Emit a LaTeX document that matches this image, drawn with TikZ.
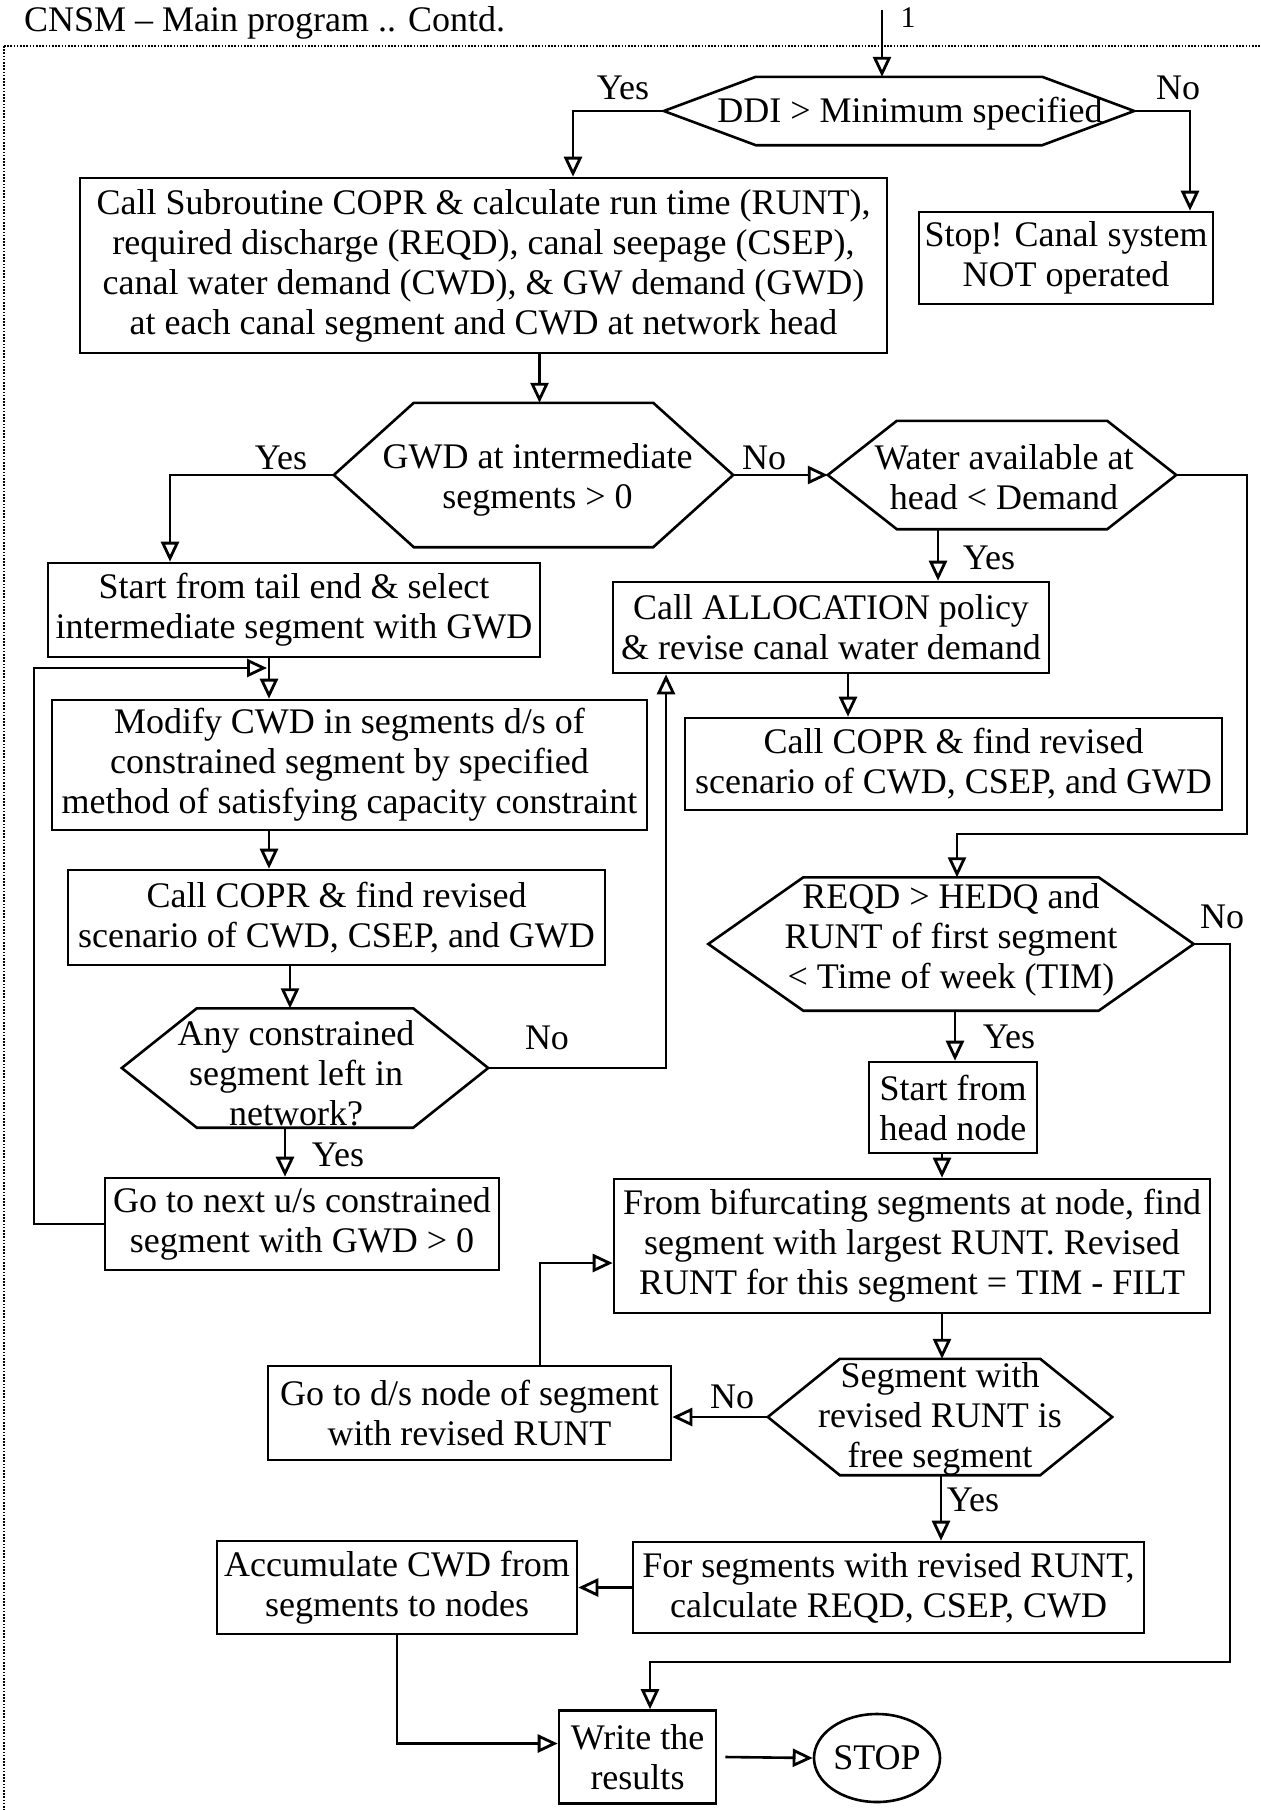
\documentclass[tikz,border=0pt]{standalone}
\usepackage{fontspec}
\setmainfont{Liberation Serif}
\usetikzlibrary{arrows.meta,shapes.geometric,calc}

\newcommand\fs{\fontsize{36}{40}\selectfont}

\tikzset{
  ln/.style={line width=2.6pt},
  arr/.style={ln, -{Triangle[open,length=20pt,width=18pt,line width=2.8pt]}},
  box/.style={draw, line width=2.6pt, align=center, inner sep=2pt, font=\fs},
  hexshape/.style={draw=none, inner sep=0pt},
  txt/.style={align=center, inner sep=0pt, font=\fs},
  lbl/.style={inner sep=0pt, font=\fs},
  border/.style={line width=1.6pt, dash pattern=on 1.6pt off 1.6pt},
}

% hexagonal decision box: name, centre, width, height, slant inset, text, text shift
\newcommand\hexbox[7]{%
  \node[hexshape, minimum width=#3, minimum height=#4] (#1) at (#2) {};
  \draw[ln, line join=miter] (#1.west) -- ([xshift=#5]#1.north west) -- ([xshift=-#5]#1.north east)
    -- (#1.east) -- ([xshift=-#5]#1.south east) -- ([xshift=#5]#1.south west) -- cycle;
  \node[txt, #7] (#1-t) at (#1) {#6};
}

\begin{document}
\begin{tikzpicture}[x=1pt, y=-1pt]
\useasboundingbox (0,0) rectangle (1261,1810);

% page heading and frame
\node[lbl, anchor=base west] (title) at (24,31) {CNSM – Main program .. Contd.};
\node[lbl, font=\fontsize{30}{34}\selectfont] (one) at (908,18) {1};
\draw[border] (4,46) -- (1261,46);
\draw[border] (4,46) -- (4,1810);

% decisions
\hexbox{ddi}{899,111}{470pt}{68pt}{92pt}{DDI > Minimum specified}{xshift=11pt,yshift=-3pt}
\hexbox{gwd}{533.5,475}{399pt}{144pt}{80pt}{GWD at intermediate\\segments > 0}{xshift=4pt,yshift=-5pt}
\hexbox{water}{1002,475}{348pt}{108pt}{69pt}{Water available at\\head < Demand}{xshift=2pt,yshift=-2pt}
\hexbox{any}{305,1068}{366pt}{119pt}{75pt}{Any constrained\\segment left in\\network?}{xshift=-9pt,yshift=-5pt}
\hexbox{reqd}{951,944}{485pt}{133pt}{95pt}{REQD > HEDQ and\\RUNT of first segment\\< Time of week (TIM)}{yshift=4pt}
\hexbox{seg}{940,1417}{344pt}{116pt}{72pt}{Segment with\\revised RUNT is\\free segment}{yshift=-2pt}

% process boxes
\node[box, minimum width=807pt, minimum height=175pt] (main) at (483.5,265.5)
  {Call Subroutine COPR \& calculate run time (RUNT),\\required discharge (REQD), canal seepage (CSEP),\\canal water demand (CWD), \& GW demand (GWD)\\at each canal segment and CWD at network head};
\node[box, minimum width=294pt, minimum height=92pt] (stop) at (1066,258)
  {Stop! Canal system\\NOT operated};
\node[box, minimum width=492pt, minimum height=94pt] (start) at (294,610)
  {Start from tail end \& select\\intermediate segment with GWD};
\node[box, minimum width=436pt, minimum height=91pt] (alloc) at (831,627.5)
  {Call ALLOCATION policy\\\& revise canal water demand};
\node[box, minimum width=537pt, minimum height=92pt] (copr2) at (953.5,764)
  {Call COPR \& find revised\\scenario of CWD, CSEP, and GWD};
\node[box, minimum width=595pt, minimum height=130pt] (modify) at (349.5,765)
  {Modify CWD in segments d/s of\\constrained segment by specified\\method of satisfying capacity constraint};
\node[box, minimum width=537pt, minimum height=95pt] (copr1) at (336.5,917.5)
  {Call COPR \& find revised\\scenario of CWD, CSEP, and GWD};
\node[box, minimum width=394pt, minimum height=92pt] (goto) at (302,1224)
  {Go to next u/s constrained\\segment with GWD > 0};
\node[box, minimum width=168pt, minimum height=91pt] (head) at (953,1107.5)
  {Start from\\head node};
\node[box, minimum width=596pt, minimum height=134pt] (bif) at (912,1246)
  {From bifurcating segments at node, find\\segment with largest RUNT. Revised\\RUNT for this segment = TIM - FILT};
\node[box, minimum width=403pt, minimum height=94pt] (gods) at (469.5,1413)
  {Go to d/s node of segment\\with revised RUNT};
\node[box, minimum width=511pt, minimum height=91pt] (forseg) at (888.5,1587.5)
  {For segments with revised RUNT,\\calculate REQD, CSEP, CWD};
\node[box, minimum width=360pt, minimum height=93pt] (accum) at (397,1587.5)
  {Accumulate CWD from\\segments to nodes};
\node[box, minimum width=157pt, minimum height=93pt] (write) at (637.5,1757)
  {Write the\\results};
\node[draw, ellipse, line width=2.6pt, minimum width=126pt, minimum height=88pt,
  inner sep=0pt, font=\fs] (stopc) at (877,1758) {STOP};

% branch labels
\node[lbl] (y1) at (623,88) {Yes};
\node[lbl] (n1) at (1178,88) {No};
\node[lbl] (y2) at (281,458) {Yes};
\node[lbl] (n2) at (764,458) {No};
\node[lbl] (y3) at (989,558) {Yes};
\node[lbl] (n4) at (547,1038) {No};
\node[lbl] (y4) at (338,1155) {Yes};
\node[lbl] (n5) at (1222,917) {No};
\node[lbl] (y5) at (1009,1037) {Yes};
\node[lbl] (n6) at (732,1397) {No};
\node[lbl] (y6) at (973,1500) {Yes};

% bend points
\coordinate (in1) at (882,10);
\coordinate (rt) at (1247,834);
\coordinate (rb) at (1230,1662);
\coordinate (lp) at (34,668);
\coordinate (jn) at ([xshift=-27pt]start.south |- lp);

% connectors
\draw[arr] (in1) -- (in1 |- ddi.north);
\draw[arr] (ddi.west) -| ([xshift=89.5pt]main.north);
\draw[arr] (ddi.east) -| ([xshift=124pt]stop.north);
\draw[arr] ([xshift=56pt]main.south) -- ([xshift=56pt]main.south |- gwd.north);
\draw[arr] (gwd.west) -| ([xshift=-124pt]start.north);
\draw[arr] (gwd.east) -- (water.west);
\draw[arr] (water.east) -| (rt) -| ([xshift=6pt]reqd.north);
\draw[arr] ([xshift=-64pt]water.south) -- ([xshift=-64pt]water.south |- alloc.north);
\draw[arr] ([xshift=17pt]alloc.south) -- ([xshift=17pt]alloc.south |- copr2.north);
\draw[arr] ([xshift=-25pt]start.south) -- ([xshift=-25pt]start.south |- modify.north);
\draw[arr] (goto.west) -| (lp) -- (jn);
\draw[arr] ([xshift=-80.5pt]modify.south) -- ([xshift=-80.5pt]modify.south |- copr1.north);
\draw[arr] ([xshift=-46.5pt]copr1.south) -- ([xshift=-46.5pt]copr1.south |- any.north);
\draw[arr] (any.east) -| ([xshift=-165pt]alloc.south);
\draw[arr] ([xshift=-20pt]any.south) -- ([xshift=-20pt]any.south |- goto.north);
\draw[arr] (reqd.east) -| (rb) -| ([xshift=12.5pt]write.north);
\draw[arr] ([xshift=4pt]reqd.south) -- ([xshift=4pt]reqd.south |- head.north);
\draw[arr] ([xshift=-11pt]head.south) -- ([xshift=-11pt]head.south |- bif.north);
\draw[arr] ([xshift=30pt]bif.south) -- ([xshift=30pt]bif.south |- seg.north);
\draw[arr] (seg.west) -- (seg.west -| gods.east);
\draw[arr] ([xshift=70.5pt]gods.north) |- ([yshift=-17pt]bif.west);
\draw[arr] ([xshift=1pt]seg.south) -- ([xshift=1pt]seg.south |- forseg.north);
\draw[arr] (forseg.west) -- (accum.east);
\draw[arr] (accum.south) |- ([yshift=13.5pt]write.west);
\draw[arr] ([xshift=8pt]write.east) -- (stopc.west);
\end{tikzpicture}
\end{document}
